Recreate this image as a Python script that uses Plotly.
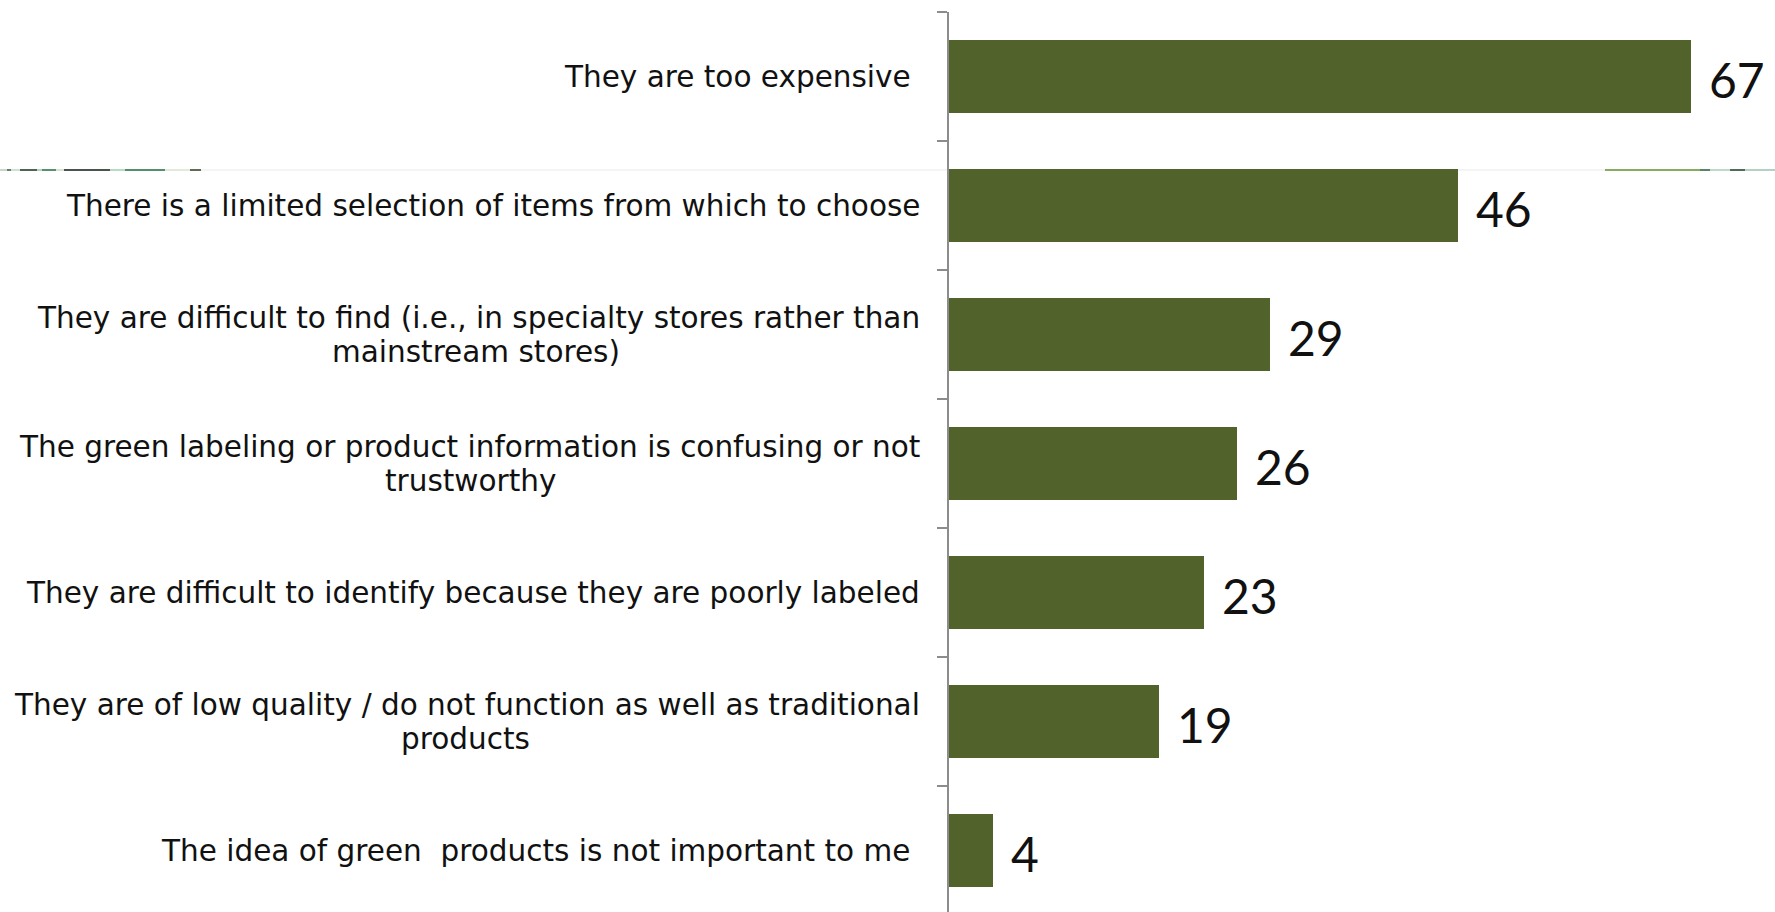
import plotly.graph_objects as go

categories = [
    "They are too expensive\u00a0",
    "There is a limited selection of items from which to choose",
    "They are difficult to find (i.e., in specialty stores rather than|mainstream stores)",
    "The green labeling or product information is confusing or not|trustworthy",
    "They are difficult to identify because they are poorly labeled",
    "They are of low quality / do not function as well as traditional|products",
    "The idea of green\u00a0 products is not important to me\u00a0",
]
values = [67, 46, 29, 26, 23, 19, 4]

BAR_COLOR = "#51632B"
W, H = 1775, 912
ML, MR, MT, MB = 949, 10, 12, 0
PW, PH = W - ML - MR, H - MT - MB
n = len(categories)
pos = list(range(n))
slot_px = 129
y_bottom = -0.5 + PH / slot_px
LABEL_FONT = dict(family="DejaVu Sans", size=29.5, color="#111111")
LINE_GAP = 34  # px between the two lines of wrapped labels
RIGHT_EDGE = 920  # px where label text ends

fig = go.Figure()
fig.add_trace(go.Bar(
    x=values, y=pos, orientation="h", width=0.56,
    marker=dict(color=BAR_COLOR, line=dict(width=0)),
    hoverinfo="skip",
))

annotations = []
for p, cat in zip(pos, categories):
    lines = cat.split("|")
    if len(lines) == 1:
        annotations.append(dict(
            xref="paper", yref="y", x=0, y=p, xanchor="right", yanchor="middle",
            xshift=RIGHT_EDGE - ML + 2, text=lines[0], showarrow=False,
            font=LABEL_FONT,
        ))
    else:
        # first line right-aligned, second line centred under the first
        annotations.append(dict(
            xref="paper", yref="y", x=0, y=p, xanchor="right", yanchor="middle",
            xshift=RIGHT_EDGE - ML + 2, yshift=LINE_GAP / 2, text=lines[0],
            showarrow=False, font=LABEL_FONT,
        ))
        annotations.append(dict(
            xref="paper", yref="y", x=0, y=p, xanchor="center", yanchor="middle",
            xshift=0, yshift=-LINE_GAP / 2, text=lines[1], showarrow=False,
            font=LABEL_FONT, name=f"second_{p}",
        ))
for p, v in zip(pos, values):
    annotations.append(dict(
        xref="x", yref="y", x=v, y=p, xanchor="left", yanchor="middle",
        xshift=16, yshift=-3, text=str(v), showarrow=False,
        font=dict(family="Lato", size=48, color="#111111"),
    ))

# centre of the wrapped second lines (px from left edge of page), under line 1
second_line_centres = {2: 476, 3: 470, 5: 465}
for a in annotations:
    nm = a.get("name", "")
    if nm.startswith("second_"):
        idx = int(nm.split("_")[1])
        a["xshift"] = second_line_centres[idx] - ML

# decorative thin band line (slide background artifact)
def px_to_paper_x(px):
    return (px - ML) / PW

def py_to_paper_y(py):
    return 1 - (py - MT) / PH

band_y = py_to_paper_y(170)
segments = [
    (0, 7, "#b9c9b4"), (7, 11, "#2c5a33"), (11, 20, "#bcd9c8"), (20, 37, "#103018"),
    (37, 42, "#9cc5ad"), (42, 56, "#1f6b3a"), (56, 64, "#c9ddc3"),
    (64, 110, "#0c1d10"), (110, 125, "#9fd0b0"), (125, 165, "#1a6a3a"),
    (165, 190, "#d8e4cc"), (190, 201, "#2a3a1a"),
    (201, 1605, "#f0f0f0"), (1605, 1700, "#5f8f2a"), (1700, 1710, "#1f5a36"),
    (1710, 1730, "#a8cbb9"), (1730, 1745, "#163a22"), (1745, 1775, "#9cc2b0"),
]
shapes = []
for a, b, c in segments:
    shapes.append(dict(
        type="line", xref="paper", yref="paper",
        x0=px_to_paper_x(a), x1=px_to_paper_x(b), y0=band_y, y1=band_y,
        line=dict(color=c, width=1.5), layer="below",
    ))

fig.update_layout(
    width=W, height=H,
    margin=dict(l=ML, r=MR, t=MT, b=MB, pad=0),
    paper_bgcolor="white", plot_bgcolor="rgba(0,0,0,0)",
    showlegend=False,
    annotations=annotations,
    shapes=shapes,
    bargap=0,
)
fig.update_xaxes(
    range=[0, PW / 11.07], visible=False, showgrid=False, zeroline=False,
)
fig.update_yaxes(
    range=[y_bottom, -0.5],
    tickmode="array",
    tickvals=[i - 0.5 for i in range(n + 1)],
    ticktext=["" for _ in range(n + 1)],
    ticks="outside", ticklen=10, tickwidth=2, tickcolor="#8c8c8c",
    showline=True, linewidth=2, linecolor="#8c8c8c",
    showgrid=False, zeroline=False,
)

fig.write_html("out.html")
